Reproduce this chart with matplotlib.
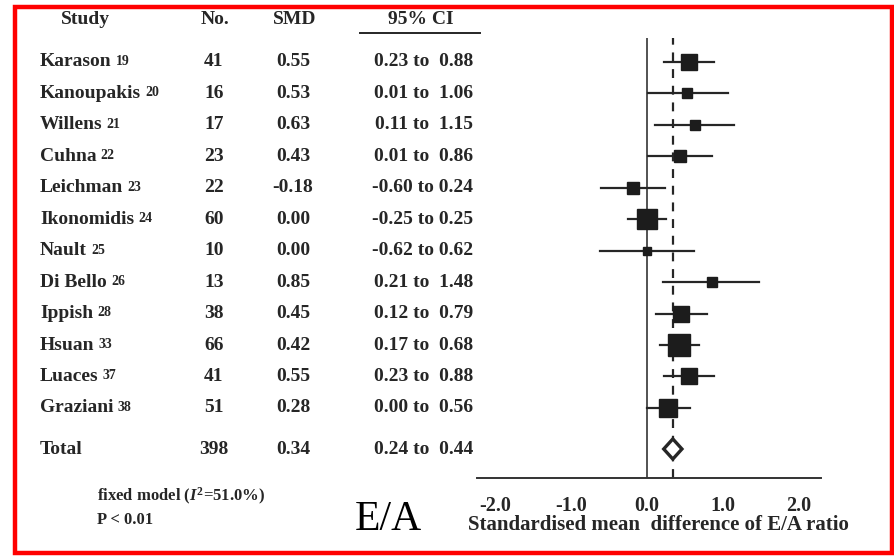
import numpy as np
import matplotlib
matplotlib.use("Agg")
import matplotlib.pyplot as plt
from matplotlib import transforms
from matplotlib.patches import Rectangle, Polygon
from matplotlib.lines import Line2D

plt.rcParams['font.family'] = ['Liberation Serif', 'DejaVu Serif']
plt.rcParams['mathtext.fontset'] = 'custom'
plt.rcParams['mathtext.rm'] = 'Liberation Serif:bold'
plt.rcParams['mathtext.it'] = 'Liberation Serif:bold:italic'

# data
studies = ["Karason", "Kanoupakis", "Willens", "Cuhna", "Leichman", "Ikonomidis",
           "Nault", "Di Bello", "Ippish", "Hsuan", "Luaces", "Graziani"]
refs = ["19", "20", "21", "22", "23", "24", "25", "26", "28", "33", "37", "38"]
n_pat = [41, 16, 17, 23, 22, 60, 10, 13, 38, 66, 41, 51]
smd = [0.55, 0.53, 0.63, 0.43, -0.18, 0.00, 0.00, 0.85, 0.45, 0.42, 0.55, 0.28]
ci_lo = [0.23, 0.01, 0.11, 0.01, -0.60, -0.25, -0.62, 0.21, 0.12, 0.17, 0.23, 0.00]
ci_hi = [0.88, 1.06, 1.15, 0.86, 0.24, 0.25, 0.62, 1.48, 0.79, 0.68, 0.88, 0.56]
total_n = 398
total_smd = 0.34
total_lo = 0.24
total_hi = 0.44
xticks = [-2.0, -1.0, 0.0, 1.0, 2.0]

W, H = 895, 556
ink = '#262626'
fs = 14

fig = plt.figure(figsize=(W / 100, H / 100), dpi=100)

def fx(px):
    return px / W

def fy(py):
    return 1 - py / H

ax = fig.add_axes([fx(477), fy(478), fx(821) - fx(477), fy(38) - fy(478)])
ax.set_xlim(-2.237, 2.29)
row_step = 31.45
ax.set_ylim((478 - 62) / row_step, (38 - 62) / row_step)

rows = np.arange(len(studies))
total_row = (449 - 62) / row_step

# reference lines
ax.axvline(0, color='#444444', lw=1.3, zorder=1)
ax.axvline(total_smd, color=ink, lw=1.6, ls=(0, (4, 3.5)), zorder=1)

# confidence intervals and squares
for i in rows:
    ax.plot([ci_lo[i], ci_hi[i]], [i, i], color=ink, lw=1.6, zorder=2)
    side = 2.65 * np.sqrt(n_pat[i]) * 0.72
    ax.plot(smd[i], i, marker='s', ms=side, color='#1c1c1c', mec='#1c1c1c', zorder=3)

# pooled diamond
dh = 0.32
diamond = Polygon([[total_lo - 0.02, total_row], [total_smd, total_row - dh],
                   [total_hi + 0.02, total_row], [total_smd, total_row + dh]],
                  closed=True, facecolor='white', edgecolor=ink, lw=2.4, zorder=4)
ax.add_patch(diamond)

for s in ['top', 'right', 'left']:
    ax.spines[s].set_visible(False)
ax.spines['bottom'].set_color('#333333')
ax.spines['bottom'].set_linewidth(1.4)
ax.set_yticks([])
ax.set_xticks(xticks)
ax.set_xticklabels([f"{t:.1f}" for t in xticks], fontsize=14.5, fontweight='bold', color=ink)
ax.tick_params(axis='x', length=0, pad=13)
ax.patch.set_alpha(0)

fig.text(fx(658), fy(525), "Standardised mean  difference of E/A ratio",
         ha='center', va='center', fontsize=15, fontweight='bold', color=ink)

# table on the left
tr = transforms.blended_transform_factory(fig.transFigure, ax.transData)
kw = dict(transform=tr, fontsize=fs, fontweight='bold', color=ink, va='center', clip_on=False)

head_row = (20 - 62) / row_step
for x, lab in [(85, "Study"), (215, "No."), (295, "SMD"), (421, "95% CI")]:
    fig.text(fx(x), head_row, lab, ha='center', **kw)
ul = (33 - 62) / row_step
fig.add_artist(Line2D([fx(360), fx(480)], [ul, ul], transform=tr, color=ink, lw=1.4))

for i in rows:
    t = fig.text(fx(40), i, studies[i], ha='left', **kw)
    ax.annotate(refs[i], xy=(1, 1), xycoords=t, xytext=(3, -1), textcoords='offset points',
                ha='left', va='top', fontsize=10, fontweight='bold', color=ink)
    fig.text(fx(214), i, str(n_pat[i]), ha='center', **kw)
    fig.text(fx(293), i, f"{smd[i]:.2f}", ha='center', **kw)
    ci_txt = f"{ci_lo[i]:.2f} to  {ci_hi[i]:.2f}".replace("to  -", "to -")
    if ci_lo[i] < 0:
        ci_txt = f"{ci_lo[i]:.2f} to {ci_hi[i]:.2f}"
    fig.text(fx(473), i, ci_txt, ha='right', **kw)

fig.text(fx(40), total_row, "Total", ha='left', **kw)
fig.text(fx(214), total_row, str(total_n), ha='center', **kw)
fig.text(fx(293), total_row, f"{total_smd:.2f}", ha='center', **kw)
fig.text(fx(473), total_row, f"{total_lo:.2f} to  {total_hi:.2f}", ha='right', **kw)

fig.text(fx(97), fy(496), r"fixed model ($I^2$=51.0%)", ha='left', va='center',
         fontsize=12, fontweight='bold', color=ink)
fig.text(fx(97), fy(520), "P < 0.01", ha='left', va='center',
         fontsize=12, fontweight='bold', color=ink)
fig.text(fx(388), fy(520), "E/A", ha='center', va='center', fontsize=30, color='black')

# red frame
fig.add_artist(Rectangle((fx(15), fy(553)), fx(892) - fx(15), fy(7) - fy(553),
                         transform=fig.transFigure, fill=False, edgecolor='#ff0000', lw=3.2))

fig.savefig("out.png", dpi=100)
